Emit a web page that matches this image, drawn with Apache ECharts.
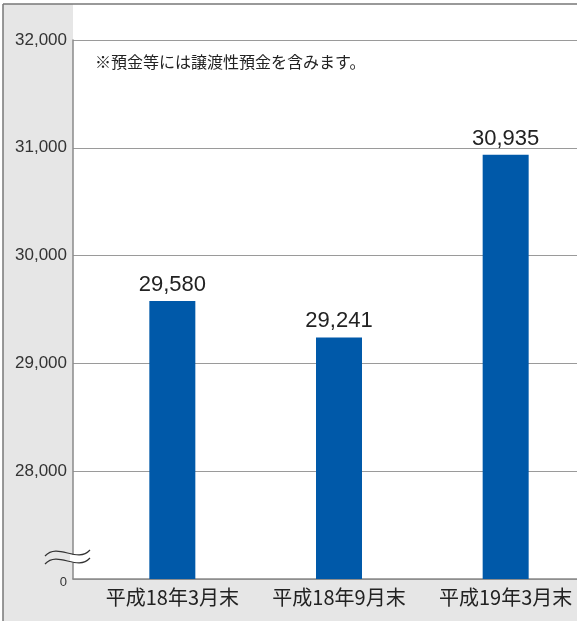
<!DOCTYPE html>
<html><head><meta charset="utf-8">
<script src="https://cdn.jsdelivr.net/npm/echarts@6/dist/echarts.min.js"></script>
<style>html,body{margin:0;padding:0;background:#fff;overflow:hidden;width:577px;height:624px}#c{width:589px;height:624px}</style>
</head><body><div id="c"></div>
<script>
const categories = ['平成18年3月末', '平成18年9月末', '平成19年3月末'];
const values = [29580, 29241, 30935];
const yMin = 27000, yMax = 32000, yStep = 1000;
const breakLabel = '0';
const note = '※預金等には譲渡性預金を含みます。';

const fmt = v => String(v).replace(/\B(?=(\d{3})+(?!\d))/g, ',');
const chart = echarts.init(document.getElementById('c'), null, {renderer: 'canvas'});
const latin = '"Liberation Sans", Arial, sans-serif';
const cjk = '"Noto Sans CJK JP", "Liberation Sans", sans-serif';

chart.setOption({
  animation: false,
  backgroundColor: '#fff',
  grid: [
    {left: 73, right: 12, top: 40, bottom: 45},
    {left: 89, right: 0, top: 40, bottom: 45}
  ],
  xAxis: [
    {gridIndex: 0, type: 'category', data: categories, axisLine: {show: true, lineStyle: {color: '#8a8a8a', width: 1.5}},
     axisTick: {show: false}, axisLabel: {show: false}},
    {gridIndex: 1, type: 'category', data: categories, axisLine: {show: false}, axisTick: {show: false},
     axisLabel: {interval: 0, color: '#222', fontSize: 20, fontFamily: cjk, margin: 8}}
  ],
  yAxis: [
    {gridIndex: 0, type: 'value', min: yMin, max: yMax, interval: yStep,
     axisLine: {show: true, lineStyle: {color: '#8a8a8a', width: 1.5}}, axisTick: {show: false},
     splitLine: {lineStyle: {color: '#9a9a9a', width: 1.2}},
     axisLabel: {margin: 6, formatter: v => v === yMin ? '{z|' + breakLabel + '}' : '{n|' + fmt(v) + '}',
       rich: {n: {color: '#333', fontSize: 17, fontFamily: latin}, z: {color: '#333', fontSize: 13, fontFamily: latin, padding: [6, 0, 0, 0]}}}},
    {gridIndex: 1, type: 'value', min: yMin, max: yMax, interval: yStep, show: false, splitLine: {show: false}}
  ],
  graphic: [
    {type: 'rect', z: -100, shape: {x: 3, y: 4, width: 586, height: 617}, style: {fill: '#e6e6e6'}},
    {type: 'rect', z: -99, shape: {x: 73, y: 4, width: 516, height: 575}, style: {fill: '#fff'}},
    {type: 'line', z: 50, shape: {x1: 3, y1: 4, x2: 3, y2: 621}, style: {stroke: '#777', lineWidth: 1.5}},
    {type: 'line', z: 50, shape: {x1: 3, y1: 4, x2: 589, y2: 4}, style: {stroke: '#777', lineWidth: 1.5}},
    {type: 'text', z: 50, x: 95, y: 54, style: {text: note, font: '16px "Noto Sans CJK JP"', fill: '#222'}},
    {type: 'rect', z: 60, shape: {x: 70, y: 555, width: 7, height: 7.5}, style: {fill: '#fff'}},
    {type: 'bezierCurve', z: 61, shape: {x1: 45, y1: 556, cpx1: 58, cpy1: 542, cpx2: 77, cpy2: 564, x2: 90, y2: 550}, style: {fill: null, stroke: '#333', lineWidth: 1.2}},
    {type: 'bezierCurve', z: 61, shape: {x1: 45, y1: 564, cpx1: 58, cpy1: 550, cpx2: 77, cpy2: 572, x2: 90, y2: 558}, style: {fill: null, stroke: '#333', lineWidth: 1.2}}
  ],
  series: [{
    type: 'bar', xAxisIndex: 1, yAxisIndex: 1, data: values, barWidth: 46,
    itemStyle: {color: '#0059a9'},
    label: {show: true, position: 'top', distance: 5, color: '#222', fontSize: 22, fontFamily: latin, formatter: p => fmt(p.value)}
  }]
});
</script></body></html>
